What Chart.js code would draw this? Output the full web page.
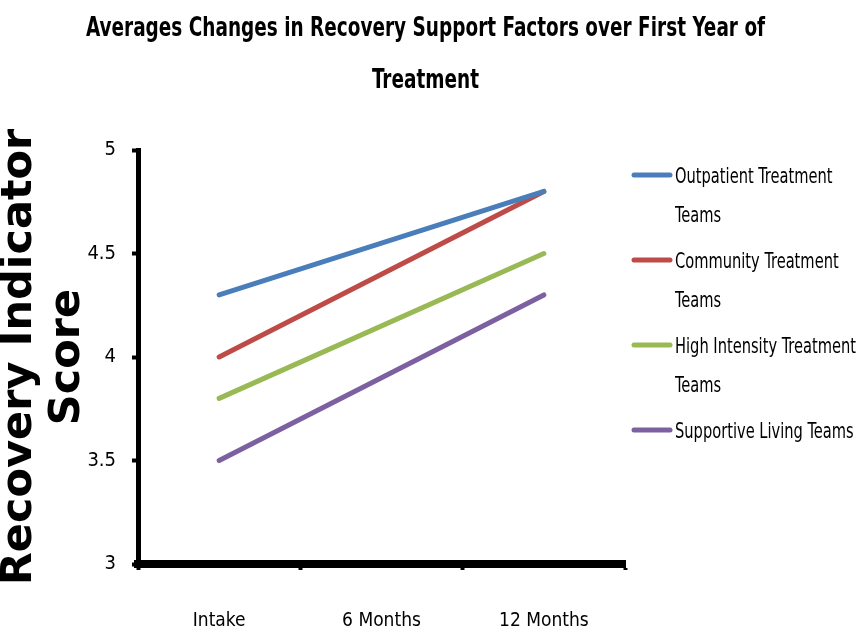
<!DOCTYPE html>
<html>
<head>
<meta charset="utf-8">
<script src="https://cdn.jsdelivr.net/npm/chart.js@4.4.1/dist/chart.umd.min.js"></script>
<style>
  html, body { margin: 0; padding: 0; background: #fff; }
  #wrap { width: 861px; height: 635px; position: relative; }
</style>
</head>
<body>
<div id="wrap"><canvas id="chart"></canvas></div>
<script>
const chartTitle    = ['Averages Changes in Recovery Support Factors over First Year of', 'Treatment'];
const categories    = ['Intake', '6 Months', '12 Months'];
const seriesNames   = ['Outpatient Treatment Teams', 'Community Treatment Teams',
                       'High Intensity Treatment Teams', 'Supportive Living Teams'];
const outpatient    = [4.3, null, 4.8];
const community     = [4.0, null, 4.8];
const highIntensity = [3.8, null, 4.5];
const supportive    = [3.5, null, 4.3];
const yMin = 3, yMax = 5, yStep = 0.5;

const NARROW = "'Liberation Sans Narrow', 'DejaVu Sans Condensed', 'Arial Narrow', sans-serif";
const colors = ['#4A7EBB', '#BE4B48', '#98B954', '#7D60A0'];

// title centred over the whole canvas (built-in title would respect the right padding)
const pageTitle = {
  id: 'pageTitle',
  afterDraw(chart) {
    const { ctx } = chart;
    const cx = chart.width / 2 - 5;
    const sx = 0.76;
    ctx.save();
    ctx.font = `bold 27px ${NARROW}`;
    ctx.fillStyle = '#000';
    ctx.textAlign = 'center';
    ctx.textBaseline = 'middle';
    chartTitle.forEach((t, i) => {
      ctx.save();
      ctx.translate(cx, 29 + i * 52);
      ctx.scale(sx, 1);
      ctx.fillText(t, 0, 0);
      ctx.restore();
    });
    ctx.restore();
  }
};

// legend with wrapped labels, drawn to the right of the plot
const wrapLegend = {
  id: 'wrapLegend',
  afterDraw(chart) {
    const { ctx, chartArea } = chart;
    const x0 = chartArea.right + 9, x1 = chartArea.right + 45, tx = chartArea.right + 50;
    const sx = 0.74;
    const maxW = (chart.width - tx + 4) / sx;
    ctx.save();
    ctx.font = `22px ${NARROW}`;
    ctx.textBaseline = 'middle';
    ctx.fillStyle = '#000';
    chart.data.datasets.forEach((ds, i) => {
      const y = chartArea.top + 25 + i * 85;
      ctx.strokeStyle = ds.borderColor;
      ctx.lineWidth = 5;
      ctx.lineCap = 'round';
      ctx.beginPath(); ctx.moveTo(x0, y); ctx.lineTo(x1, y); ctx.stroke();
      const words = ds.label.split(' ');
      const lines = [];
      let cur = '';
      words.forEach(w => {
        const test = cur ? cur + ' ' + w : w;
        if (ctx.measureText(test).width > maxW && cur) { lines.push(cur); cur = w; }
        else cur = test;
      });
      lines.push(cur);
      lines.forEach((l, j) => {
        ctx.save();
        ctx.translate(tx, y + 2 + j * 39);
        ctx.scale(sx, 1);
        ctx.fillText(l, 0, 0);
        ctx.restore();
      });
    });
    ctx.restore();
  }
};

new Chart(document.getElementById('chart'), {
  type: 'line',
  data: {
    labels: categories,
    datasets: [outpatient, community, highIntensity, supportive].map((d, i) => ({
      label: seriesNames[i],
      data: d,
      borderColor: colors[i],
      backgroundColor: colors[i],
      borderWidth: 5,
      borderCapStyle: 'round',
      pointRadius: 0,
      pointHoverRadius: 0,
      spanGaps: true,
      tension: 0
    }))
  },
  options: {
    responsive: true,
    maintainAspectRatio: false,
    animation: false,
    layout: { padding: { left: 0, right: 236, top: 150, bottom: 0 } },
    plugins: {
      legend: { display: false },
      tooltip: { enabled: false },
      title: { display: false }
    },
    scales: {
      x: {
        offset: true,
        grid: {
          offset: true, drawOnChartArea: false, drawTicks: true,
          tickLength: 6, tickWidth: 4, tickColor: '#000'
        },
        border: { display: true, color: '#000', width: 8 },
        ticks: { color: '#000', font: { family: NARROW, size: 19 }, padding: 40 },
        afterFit(scale) { scale.height = 71; }
      },
      y: {
        min: yMin, max: yMax,
        grid: {
          drawOnChartArea: false, drawTicks: true,
          tickLength: 6, tickWidth: 4, tickColor: '#000'
        },
        border: { display: true, color: '#000', width: 5 },
        ticks: {
          stepSize: yStep, color: '#000', padding: 16,
          font: { family: NARROW, size: 20 },
          callback: v => String(v)
        },
        title: {
          display: true,
          text: ['Recovery Indicator', 'Score'],
          color: '#000',
          font: { family: "'DejaVu Sans', Verdana, sans-serif", size: 43, weight: 'bold', lineHeight: 1.12 },
          padding: { top: -4, bottom: 0 }
        },
        afterFit(scale) { scale.width = 138; }
      }
    }
  },
  plugins: [pageTitle, wrapLegend]
});
</script>
</body>
</html>
